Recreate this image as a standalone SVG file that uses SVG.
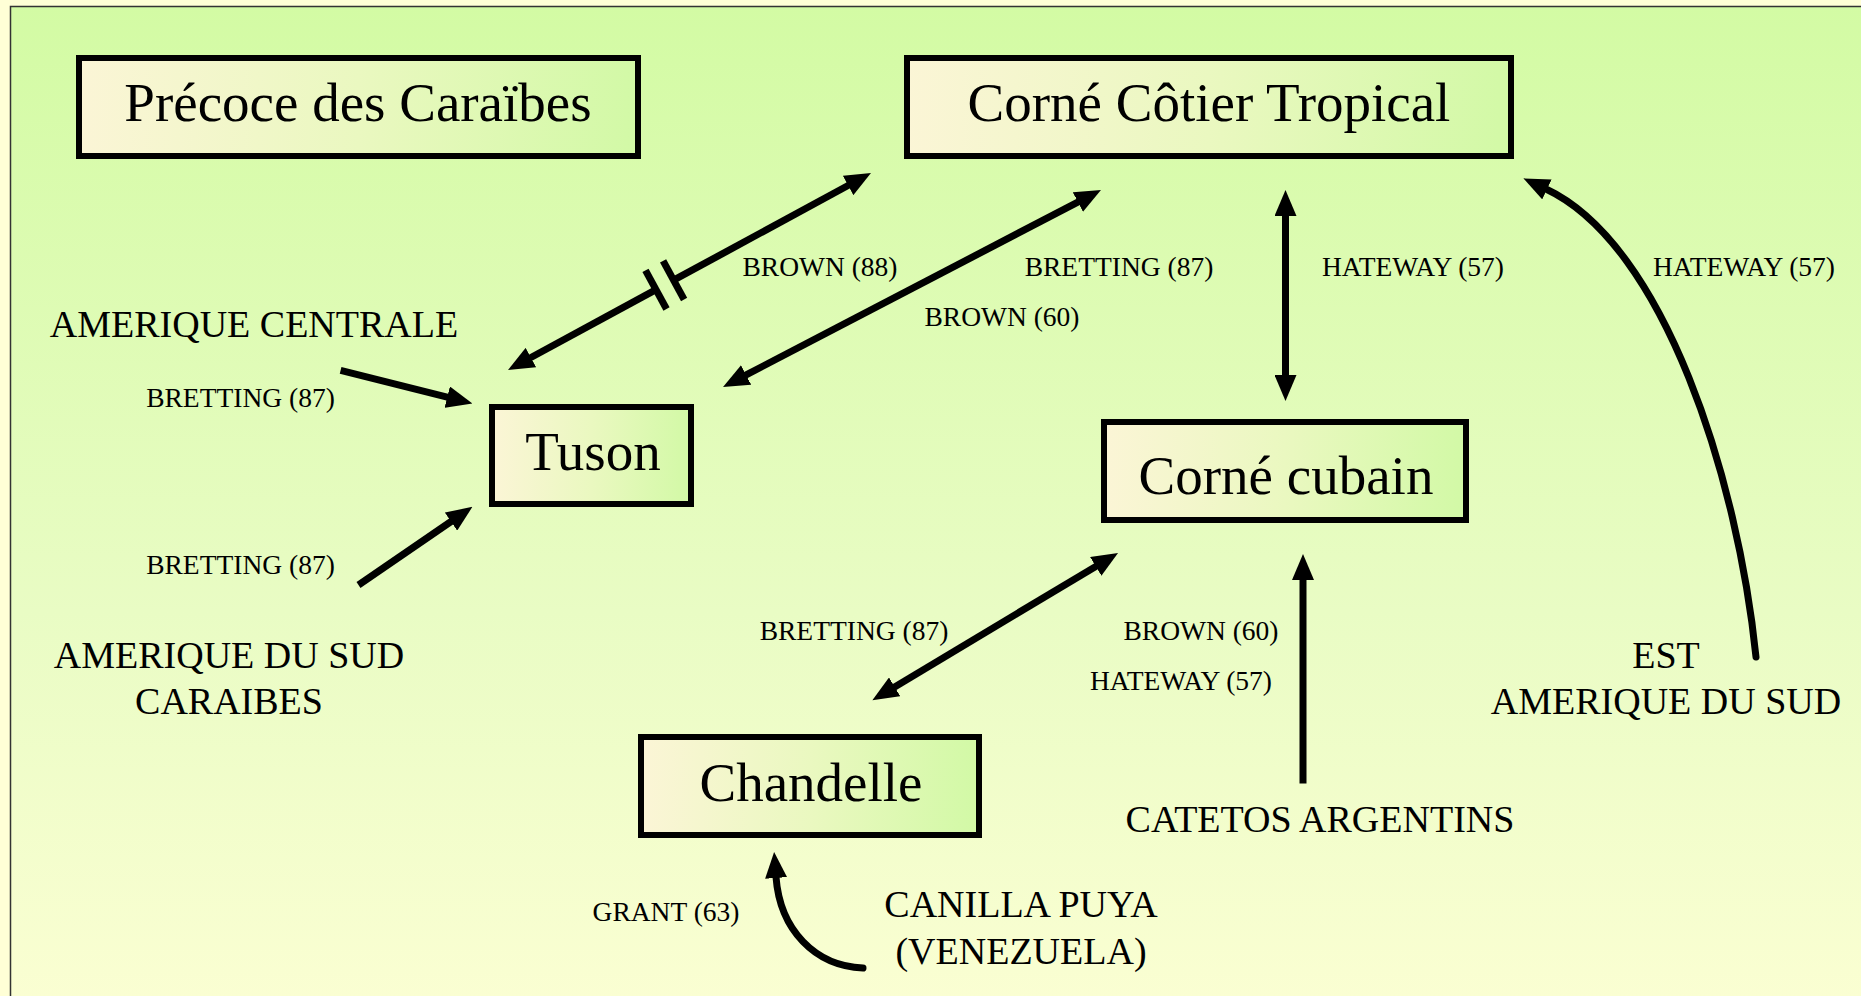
<svg xmlns="http://www.w3.org/2000/svg" width="1861" height="996" viewBox="0 0 1861 996">
<defs>
<linearGradient id="bg" x1="0" y1="0" x2="0" y2="1">
<stop offset="0" stop-color="#D3FBA4"/>
<stop offset="0.55" stop-color="#E9FCC4"/>
<stop offset="1" stop-color="#FFFFD6"/>
</linearGradient>
<linearGradient id="nodefill" x1="0" y1="0" x2="1" y2="0">
<stop offset="0" stop-color="#FBF5D6"/>
<stop offset="0.5" stop-color="#EAF8C0"/>
<stop offset="1" stop-color="#D2F9A6"/>
</linearGradient>
<marker id="ah" viewBox="0 0 26 22" markerWidth="26" markerHeight="22" refX="1" refY="11" orient="auto-start-reverse" markerUnits="userSpaceOnUse">
<path d="M0,0 L26,11 L0,22 z" fill="#000"/>
</marker>
<style>
.node rect{fill:url(#nodefill);stroke:#000;stroke-width:6}
.nl{font-size:55px;fill:#000;text-anchor:middle}
.rl{font-size:38px;fill:#000;text-anchor:middle}
.cl{font-size:27.5px;fill:#000;text-anchor:middle}
.ln{fill:none;stroke:#000;stroke-width:7}
.cv{fill:none;stroke:#000;stroke-width:7;stroke-linecap:round}
</style>
</defs>
<rect x="0" y="0" width="1861" height="996" fill="#FFFFD6"/>
<rect x="10.5" y="6.5" width="1900" height="1100" fill="url(#bg)" stroke="#333" stroke-width="1.5"/>

<g id="connectors">
<path class="ln" d="M530,358 L656,289.7" marker-start="url(#ah)"/>
<path class="ln" d="M673.6,280.2 L849,185" marker-end="url(#ah)"/>
<path class="ln" d="M645.5,270.4 L666.5,309"/>
<path class="ln" d="M663.1,260.9 L684.1,299.5"/>
<path class="ln" d="M745.2,375.4 L1078.8,201.6" marker-start="url(#ah)" marker-end="url(#ah)"/>
<path class="ln" d="M1285.5,215 L1285.5,376" marker-start="url(#ah)" marker-end="url(#ah)"/>
<path class="cv" d="M1756,657 C1738,480 1665,245 1546,189" marker-end="url(#ah)"/>
<path class="ln" d="M340.6,370.3 L448.2,397.4" marker-end="url(#ah)"/>
<path class="ln" d="M358.5,585 L451.8,521" marker-end="url(#ah)"/>
<path class="ln" d="M893.8,687.4 L1096.6,565.9" marker-start="url(#ah)" marker-end="url(#ah)"/>
<path class="ln" d="M1303,783.4 L1303,579" marker-end="url(#ah)"/>
<path class="cv" d="M863,968 C815,966 780,930 776,877" marker-end="url(#ah)"/>
</g>

<g font-family="Liberation Serif, Tinos, Times New Roman, serif">
<g id="precoce" class="node">
<rect x="79" y="58" width="559" height="98"/>
<text class="nl" x="358" y="121">Précoce des Caraïbes</text>
</g>
<g id="corne-cotier" class="node">
<rect x="907" y="58" width="604" height="98"/>
<text class="nl" x="1209" y="121">Corné Côtier Tropical</text>
</g>
<g id="tuson" class="node">
<rect x="492" y="407" width="199" height="97"/>
<text class="nl" x="593" y="470">Tuson</text>
</g>
<g id="corne-cubain" class="node">
<rect x="1104" y="422" width="362" height="98"/>
<text class="nl" x="1286" y="494">Corné cubain</text>
</g>
<g id="chandelle" class="node">
<rect x="641" y="737" width="338" height="98"/>
<text class="nl" x="811" y="801">Chandelle</text>
</g>

<g id="labels">
<text class="rl" x="254" y="337">AMERIQUE CENTRALE</text>
<text class="rl" x="229" y="668">AMERIQUE DU SUD</text>
<text class="rl" x="229" y="714">CARAIBES</text>
<text class="rl" x="1320" y="832">CATETOS ARGENTINS</text>
<text class="rl" x="1666" y="668">EST</text>
<text class="rl" x="1666" y="714">AMERIQUE DU SUD</text>
<text class="rl" x="1021" y="917">CANILLA PUYA</text>
<text class="rl" x="1021" y="964">(VENEZUELA)</text>
<text class="cl" x="240.5" y="407">BRETTING (87)</text>
<text class="cl" x="240.5" y="574">BRETTING (87)</text>
<text class="cl" x="820" y="276">BROWN (88)</text>
<text class="cl" x="1119" y="276">BRETTING (87)</text>
<text class="cl" x="1002" y="326">BROWN (60)</text>
<text class="cl" x="1413" y="276">HATEWAY (57)</text>
<text class="cl" x="1744" y="276">HATEWAY (57)</text>
<text class="cl" x="854" y="640">BRETTING (87)</text>
<text class="cl" x="1201" y="640">BROWN (60)</text>
<text class="cl" x="1181" y="690">HATEWAY (57)</text>
<text class="cl" x="666" y="921">GRANT (63)</text>
</g>
</g>
</svg>
